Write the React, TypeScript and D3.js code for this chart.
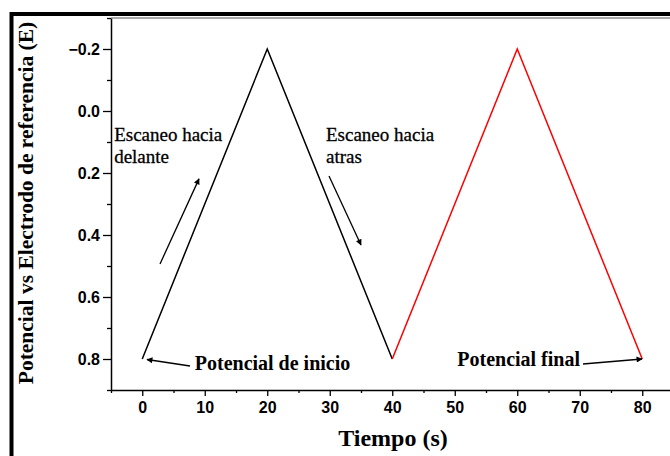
import * as d3 from "d3";
import { useRef, useEffect } from "react";

// triangular sweep: time (s) vs potential (E)
const forwardTime = [0, 20, 40];
const forwardPotential = [0.8, -0.2, 0.8];
const reverseTime = [40, 60, 80];
const reversePotential = [0.8, -0.2, 0.8];

const yTickValues = [-0.2, 0.0, 0.2, 0.4, 0.6, 0.8];
const yMinorTicks = [-0.3, -0.1, 0.1, 0.3, 0.5, 0.7, 0.9];
const xTickValues = [0, 10, 20, 30, 40, 50, 60, 70, 80];
const xMinorTicks = [-5, 5, 15, 25, 35, 45, 55, 65, 75, 85];

const xTitle = "Tiempo (s)";
const yTitle = "Potencial vs Electrodo de referencia (E)";

const App = () => {
  const container = useRef<HTMLDivElement>(null);

  useEffect(() => {
    document.body.style.margin = "0";
    createChart();
  });

  const createChart = () => {
    const node = container.current;
    const width = 670;
    const height = 456;
    const plot = { l: 111, t: 18, b: 390 };

    const xScale = d3.scaleLinear().domain([-5, 85]).range([plot.l, plot.l + 90 * 6.25]);
    const yScale = d3.scaleLinear().domain([-0.3, 0.9]).range([plot.t, plot.b]);

    const svg = d3
      .select(node)
      .selectAll("svg")
      .data([0])
      .join("svg")
      .attr("width", width)
      .attr("height", height)
      .style("display", "block")
      .style("background", "#fff");

    svg.selectAll("*").remove();

    const defs = svg.append("defs");
    defs
      .append("marker")
      .attr("id", "head")
      .attr("viewBox", "0 0 10 10")
      .attr("refX", 9)
      .attr("refY", 5)
      .attr("markerWidth", 9)
      .attr("markerHeight", 6)
      .attr("markerUnits", "userSpaceOnUse")
      .attr("orient", "auto")
      .append("path")
      .attr("d", "M0,0 L10,5 L0,10 Z")
      .attr("fill", "#000");

    // outer frame (only left and top visible)
    svg
      .append("path")
      .attr("d", `M11.5,${height} L11.5,14 L${width},14`)
      .attr("fill", "none")
      .attr("stroke", "#000")
      .attr("stroke-width", 4);

    const tickFont = "'Liberation Sans', Arial, sans-serif";
    const serif = "'Liberation Serif', 'Times New Roman', serif";

    // y axis
    const yAxis = d3
      .axisLeft(yScale)
      .tickValues(yTickValues)
      .tickSize(8)
      .tickPadding(3)
      .tickSizeOuter(0)
      .tickFormat(d3.format(".1f"));
    const yg = svg.append("g").attr("transform", `translate(${plot.l},0)`).call(yAxis);
    yg.selectAll("text")
      .style("font-family", tickFont)
      .style("font-weight", "bold")
      .style("font-size", "16px")
      .attr("fill", "#000");
    yg.select(".domain").attr("stroke-width", 1.5);
    yg.selectAll(".tick line").attr("stroke-width", 1.3);

    const yMinor = d3.axisLeft(yScale).tickValues(yMinorTicks).tickSize(4).tickFormat(() => "").tickSizeOuter(0);
    const ym = svg.append("g").attr("transform", `translate(${plot.l},0)`).call(yMinor);
    ym.select(".domain").remove();
    ym.selectAll(".tick line").attr("stroke-width", 1.3);

    // x axis
    const xAxis = d3
      .axisBottom(xScale)
      .tickValues(xTickValues)
      .tickSize(6)
      .tickPadding(6)
      .tickSizeOuter(0)
      .tickFormat(d3.format("d"));
    const xg = svg.append("g").attr("transform", `translate(0,${plot.b})`).call(xAxis);
    xg.selectAll("text")
      .style("font-family", tickFont)
      .style("font-weight", "bold")
      .style("font-size", "16px")
      .attr("fill", "#000");
    xg.select(".domain").attr("stroke-width", 1.5);
    xg.selectAll(".tick line").attr("stroke-width", 1.3);

    const xMinor = d3.axisBottom(xScale).tickValues(xMinorTicks).tickSize(3).tickFormat(() => "").tickSizeOuter(0);
    const xm = svg.append("g").attr("transform", `translate(0,${plot.b})`).call(xMinor);
    xm.select(".domain").remove();
    xm.selectAll(".tick line").attr("stroke-width", 1.3);

    // top frame line of the plot
    svg
      .append("line")
      .attr("x1", plot.l)
      .attr("x2", width)
      .attr("y1", plot.t)
      .attr("y2", plot.t)
      .attr("stroke", "#555")
      .attr("stroke-width", 1.2);

    // series
    const forward = forwardTime.map((t, i) => [t, forwardPotential[i]] as [number, number]);
    const reverse = reverseTime.map((t, i) => [t, reversePotential[i]] as [number, number]);
    const path = d3
      .line<[number, number]>()
      .x((d) => xScale(d[0]))
      .y((d) => yScale(d[1]));

    svg.append("path").datum(forward).attr("d", path).attr("fill", "none").attr("stroke", "#000").attr("stroke-width", 1.5);
    svg.append("path").datum(reverse).attr("d", path).attr("fill", "none").attr("stroke", "#ff0000").attr("stroke-width", 1.5);

    // annotations (data coordinates)
    const texts = [
      { x: -4.5, y: 0.096, t: "Escaneo hacia", w: "normal", s: 19 },
      { x: -4.5, y: 0.168, t: "delante", w: "normal", s: 19 },
      { x: 29.4, y: 0.096, t: "Escaneo hacia", w: "normal", s: 19 },
      { x: 29.4, y: 0.168, t: "atras", w: "normal", s: 19 },
      { x: 8.4, y: 0.836, t: "Potencial de inicio", w: "bold", s: 20 },
      { x: 50.4, y: 0.823, t: "Potencial final", w: "bold", s: 20 },
    ];
    svg
      .selectAll(".anno")
      .data(texts)
      .join("text")
      .attr("class", "anno")
      .attr("x", (d) => xScale(d.x))
      .attr("y", (d) => yScale(d.y))
      .text((d) => d.t)
      .style("font-family", serif)
      .style("font-weight", (d) => d.w)
      .style("font-size", (d) => d.s + "px")
      .attr("fill", "#000")
      .attr("stroke", (d) => (d.w === "normal" ? "#000" : "none"))
      .attr("stroke-width", 0.3);

    const arrows = [
      { x1: 2.84, y1: 0.4935, x2: 9.08, y2: 0.219 },
      { x1: 29.88, y1: 0.2097, x2: 35.0, y2: 0.432 },
      { x1: 7.64, y1: 0.8226, x2: 0.76, y2: 0.8016 },
      { x1: 70.52, y1: 0.8161, x2: 79.96, y2: 0.8 },
    ];
    svg
      .selectAll(".arrow")
      .data(arrows)
      .join("line")
      .attr("class", "arrow")
      .attr("x1", (d) => xScale(d.x1))
      .attr("y1", (d) => yScale(d.y1))
      .attr("x2", (d) => xScale(d.x2))
      .attr("y2", (d) => yScale(d.y2))
      .attr("stroke", "#000")
      .attr("stroke-width", 1.3)
      .attr("marker-end", "url(#head)");

    // axis titles
    svg
      .append("text")
      .attr("x", 393)
      .attr("y", 446)
      .attr("text-anchor", "middle")
      .text(xTitle)
      .style("font-family", serif)
      .style("font-weight", "bold")
      .style("font-size", "24px");

    svg
      .append("text")
      .attr("transform", `translate(33,203) rotate(-90)`)
      .attr("text-anchor", "middle")
      .text(yTitle)
      .style("font-family", serif)
      .style("font-weight", "bold")
      .style("font-size", "21.5px");
  };

  return <div ref={container}></div>;
};

export default App;
